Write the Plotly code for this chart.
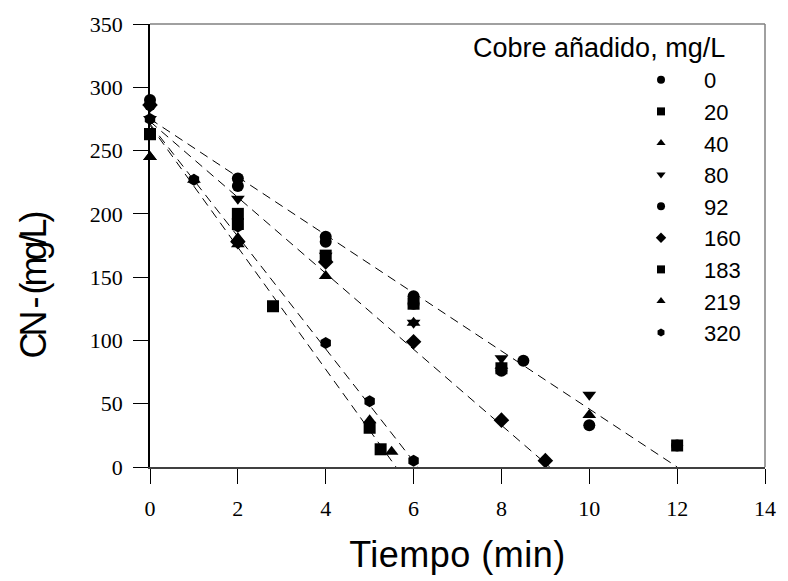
import plotly.graph_objects as go

# ---- data ----
series_names = ["0", "20", "40", "80", "92", "160", "183", "219", "320"]
series_symbols = ["circle", "square", "triangle-up", "triangle-down", "circle",
                  "diamond", "square", "triangle-up", "hexagon"]

t_0 = [0, 2, 4, 6, 8.5, 10, 12]
c_0 = [290, 228, 182, 135, 84, 33, 17]
t_20 = [0, 2, 4, 6, 8, 12]
c_20 = [263, 200, 167, 129, 78, 17]
t_40 = [0, 2, 4, 6, 8, 10]
c_40 = [245, 181, 151, 114, 80, 41]
t_80 = [0, 2, 4, 6, 8, 10]
c_80 = [275, 212, 167, 114, 86, 57]
t_92 = [0, 2, 4, 6, 8]
c_92 = [286, 222, 178, 129, 76]
t_160 = [0, 2, 4, 6, 8, 9]
c_160 = [286, 178, 162, 99, 37, 5]
t_183 = [0, 2, 2.8, 5, 5.25]
c_183 = [263, 192, 127, 31, 14]
t_219 = [0, 1, 2, 5, 5.5]
c_219 = [245, 227, 176, 37, 12]
t_320 = [0, 1, 2, 4, 5, 6]
c_320 = [275, 227, 190, 98, 52, 5]

series_t = [t_0, t_20, t_40, t_80, t_92, t_160, t_183, t_219, t_320]
series_c = [c_0, c_20, c_40, c_80, c_92, c_160, c_183, c_219, c_320]

# fitted dashed lines: (start time, start conc) -> (end time, end conc)
fit_t0 = [0, 0, 0, 0]
fit_c0 = [275, 273, 271, 270]
fit_t1 = [12.0, 9.1, 6.1, 5.6]
fit_c1 = [0, 0, 0, 0]

x_ticks = [0, 2, 4, 6, 8, 10, 12, 14]
y_ticks = [0, 50, 100, 150, 200, 250, 300, 350]

SANS = "Liberation Sans, Arial"
SERIF = "Liberation Serif, Times New Roman"

fig = go.Figure()

for a, b, c, d in zip(fit_t0, fit_c0, fit_t1, fit_c1):
    fig.add_trace(go.Scatter(x=[a, c], y=[b, d], mode="lines",
                             line=dict(color="black", width=1, dash="9px,6px"),
                             showlegend=False, hoverinfo="skip"))

for name, sym, tt, cc in zip(series_names, series_symbols, series_t, series_c):
    fig.add_trace(go.Scatter(x=tt, y=cc, mode="markers", name=name,
                             marker=dict(symbol=sym, size=12, color="black"),
                             showlegend=False, cliponaxis=False))

for name, sym in zip(series_names, series_symbols):
    fig.add_trace(go.Scatter(x=[None], y=[None], mode="markers", name=name,
                             marker=dict(symbol=sym, size=8, color="black"),
                             showlegend=True))

# legend title
fig.add_annotation(text="Cobre añadido, mg/L", xref="paper", yref="paper",
                   x=0.522, y=0.946, xanchor="left", yanchor="middle",
                   showarrow=False,
                   font=dict(family=SANS, size=27, color="black"))

# y-axis title
fig.add_annotation(text='<span style="letter-spacing:-4px">CN - (mg/L)</span>',
                   xref="paper", yref="paper",
                   x=-0.190, y=0.41, xanchor="center", yanchor="middle",
                   textangle=-90, showarrow=False,
                   font=dict(family=SANS, size=36, color="black"))

# gray top / right frame
fig.add_shape(type="line", xref="paper", yref="paper", x0=0, x1=1, y0=1, y1=1,
              line=dict(color="#808080", width=1.5))
fig.add_shape(type="line", xref="paper", yref="paper", x0=1, x1=1, y0=0, y1=1,
              line=dict(color="#808080", width=1.5))

fig.update_layout(
    width=788, height=581,
    margin=dict(l=150, r=16, t=22, b=114),
    paper_bgcolor="white", plot_bgcolor="white",
    showlegend=True,
    legend=dict(x=0.761, y=0.921, xanchor="left", yanchor="top",
                font=dict(family=SANS, size=22, color="black"),
                bgcolor="rgba(0,0,0,0)", itemwidth=76, tracegroupgap=0),
    xaxis=dict(range=[0, 14], tickvals=x_ticks, ticks="outside", ticklen=15,
               tickcolor="black", showline=True, linecolor="#404040", linewidth=1.5,
               showgrid=False, zeroline=False, ticklabelstandoff=6,
               tickfont=dict(family=SERIF, size=22, color="black"),
               title=dict(text='<span style="letter-spacing:0.5px">Tiempo (min)</span>',
                          standoff=22,
                          font=dict(family=SANS, size=36, color="black"))),
    yaxis=dict(range=[0, 350], tickvals=y_ticks, ticks="outside", ticklen=15,
               tickcolor="black", showline=True, linecolor="black", linewidth=1.5,
               showgrid=False, zeroline=False, ticklabelstandoff=6,
               tickfont=dict(family=SERIF, size=22, color="black")),
)

fig.write_html("out.html")
